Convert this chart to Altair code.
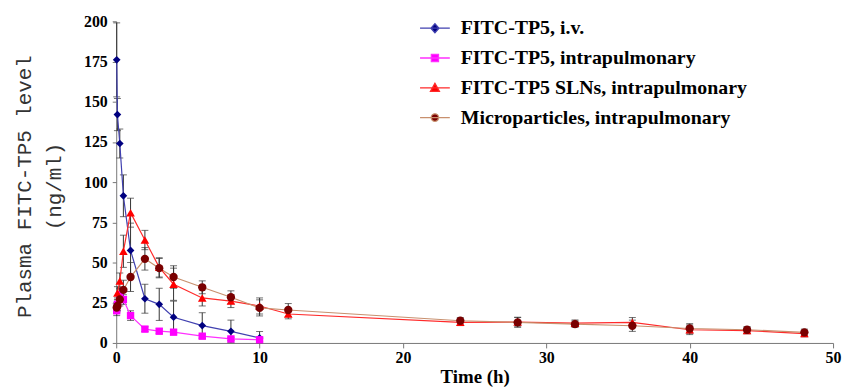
import altair as alt
import pandas as pd

SERIES = [
    "FITC-TP5, i.v.",
    "FITC-TP5, intrapulmonary",
    "FITC-TP5 SLNs, intrapulmonary",
    "Microparticles, intrapulmonary",
]

# i.v.
t_iv = [0.033, 0.083, 0.25, 0.5, 1, 2, 3, 4, 6, 8, 10]
y_iv = [176, 142, 124, 91.5, 57.5, 27.5, 24, 16, 10.8, 7.2, 3.1]
e_iv = [23, 10, 9, 13, 17, 9, 10, 10, 8, 7, 4]

# intrapulmonary solution
t_ip = [0.033, 0.083, 0.25, 0.5, 1, 2, 3, 4, 6, 8, 10]
y_ip = [20, 24, 30, 27, 17, 8.6, 7.3, 6.7, 4.2, 2.5, 2.0]
e_ip = [3, 4, 4, 3, 3, 1.5, 1.5, 1.5, 1, 1, 1]

# SLNs intrapulmonary
t_sln = [0.083, 0.25, 0.5, 1, 2, 3, 4, 6, 8, 10, 12, 24, 28, 32, 36, 40, 44, 48]
y_sln = [31, 38.5, 57, 81, 64, 47, 36.5, 28, 26, 23, 18, 12.8, 13, 12.3, 12.8, 8.2, 7.7, 5.8]
e_sln = [4, 5, 10, 9, 6, 6, 10, 5, 4, 5, 3, 2, 3, 2, 3, 3, 2, 2]

# Microparticles intrapulmonary
t_mp = [0.033, 0.083, 0.25, 0.5, 1, 2, 3, 4, 6, 8, 10, 12, 24, 28, 32, 36, 40, 44, 48]
y_mp = [22, 23, 27, 33, 41, 52.3, 46.5, 41, 34.6, 28.4, 21.8, 20.5, 13.8, 12.8, 11.7, 10.7, 9.0, 8.2, 6.6]
e_mp = [3, 3, 4, 6, 9, 7, 6, 7, 4, 4, 5, 4, 2, 3, 2, 3.5, 3, 2, 2]

MARKER_COLORS = ["#000080", "#ff00ff", "#ff0000", "#7a0000"]
LINE_COLORS = ["#4040b0", "#ff30ff", "#ff2a2a", "#c8906e"]
SHAPES = ["diamond", "square", "triangle-up", "circle"]
SIZES = [60, 55, 75, 70]

LEGEND_PATHS = [
    "M-1,0L1,0M0,-0.3L0.27,0L0,0.3L-0.27,0Z",
    "M-1,0L1,0M-0.24,-0.24L0.24,-0.24L0.24,0.24L-0.24,0.24Z",
    "M-1,0L1,0M0,-0.3L0.3,0.24L-0.3,0.24Z",
    "M-1,0L1,0M-0.25,0A0.25,0.25 0 1,0 0.25,0A0.25,0.25 0 1,0 -0.25,0Z",
]

rows = []
for name, ts, ys, es in zip(SERIES, [t_iv, t_ip, t_sln, t_mp], [y_iv, y_ip, y_sln, y_mp], [e_iv, e_ip, e_sln, e_mp]):
    for t, y, e in zip(ts, ys, es):
        rows.append({"series": name, "t": t, "y": y, "lo": max(0, y - e), "hi": y + e})
df = pd.DataFrame(rows)

x_axis = alt.Axis(
    values=[0, 10, 20, 30, 40, 50], title="Time (h)", grid=False, labelFlush=False,
    labelFont="Liberation Serif", labelFontWeight="bold", labelFontSize=16, labelColor="#000",
    titleFont="Liberation Serif", titleFontWeight="bold", titleFontSize=19, titleColor="#000",
    tickSize=5, labelPadding=2, titlePadding=2, domainColor="#777", tickColor="#777",
)
y_axis = alt.Axis(
    values=list(range(0, 201, 25)),
    title=["Plasma FITC-TP5 level", "\u00a0\u00a0\u00a0(ng/ml)"], grid=False, labelFlush=False,
    labelFont="Liberation Serif", labelFontWeight="bold", labelFontSize=16, labelColor="#000",
    titleFont="Liberation Mono", titleFontWeight="normal", titleFontSize=21, titleColor="#333",
    titleLineHeight=30, titleAngle=270, titleAlign="center", titleBaseline="top",
    titleX=-103, titleY=166,
    tickSize=4, labelPadding=5, domainColor="#777", tickColor="#777",
)

xs = alt.Scale(domain=[0, 50], nice=False, padding=0)
ys_ = alt.Scale(domain=[0, 200], nice=False, padding=0)

base = alt.Chart(df)

layers = []
# error bars
layers.append(base.mark_rule(color="#333", strokeWidth=1).encode(
    x=alt.X("t:Q", scale=xs, axis=x_axis), y=alt.Y("lo:Q", scale=ys_, axis=y_axis), y2="hi:Q"))
layers.append(base.mark_tick(color="#333", orient="horizontal", size=7, thickness=1).encode(
    x=alt.X("t:Q", scale=xs, axis=x_axis), y=alt.Y("hi:Q", scale=ys_, axis=y_axis)))
layers.append(base.mark_tick(color="#333", orient="horizontal", size=7, thickness=1).encode(
    x=alt.X("t:Q", scale=xs, axis=x_axis), y=alt.Y("lo:Q", scale=ys_, axis=y_axis)))

for i, name in enumerate(SERIES):
    sub = base.transform_filter(alt.datum.series == name)
    layers.append(sub.mark_line(color=LINE_COLORS[i], strokeWidth=1.2).encode(
        x=alt.X("t:Q", scale=xs, axis=x_axis), y=alt.Y("y:Q", scale=ys_, axis=y_axis)))
for i, name in enumerate(SERIES):
    sub = base.transform_filter(alt.datum.series == name)
    layers.append(sub.mark_point(shape=SHAPES[i], filled=True, color=MARKER_COLORS[i],
                                 size=SIZES[i], opacity=1).encode(
        x=alt.X("t:Q", scale=xs, axis=x_axis), y=alt.Y("y:Q", scale=ys_, axis=y_axis)))

legend = alt.Legend(
    title=None, orient="none", legendX=305, legendY=-9, symbolSize=900,
    labelFont="Liberation Serif", labelFontWeight="bold", labelFontSize=20, labelColor="#000",
    labelOffset=10, rowPadding=4, padding=0, labelLimit=0, symbolStrokeWidth=1.3,
    symbolOpacity=1,
)
layers.append(base.transform_filter("datum.t < 0").mark_point(filled=True, opacity=1).encode(
    shape=alt.Shape("series:N", scale=alt.Scale(domain=SERIES, range=LEGEND_PATHS), legend=legend),
    fill=alt.Fill("series:N", scale=alt.Scale(domain=SERIES, range=MARKER_COLORS), legend=legend),
    stroke=alt.Stroke("series:N", scale=alt.Scale(domain=SERIES, range=LINE_COLORS), legend=legend),
))

chart = alt.layer(*layers).properties(
    width=722, height=324,
    padding={"left": 109, "top": 12, "right": 9, "bottom": 43},
    autosize=alt.AutoSizeParams(type="none"),
    background="white",
).configure_view(stroke=None)

chart.save("out.html", embed_options={"renderer": "svg", "actions": False})
